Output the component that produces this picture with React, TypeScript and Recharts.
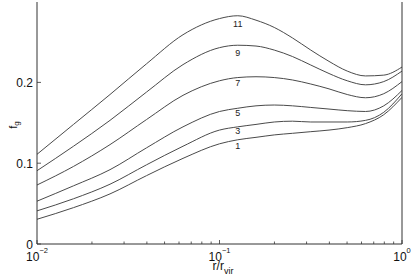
import React from "react";
import { LineChart, Line, XAxis, YAxis, ReferenceDot } from "recharts";

// log10(r / r_vir) sample points shared by all curves
const logR = [-2, -1.8, -1.6, -1.4, -1.2, -1.0, -0.9, -0.8, -0.7, -0.6, -0.5, -0.4, -0.3, -0.2, -0.1, 0];

const fg11 = [0.111, 0.148, 0.185, 0.223, 0.259, 0.279, 0.2825, 0.277, 0.268, 0.255, 0.24, 0.226, 0.214, 0.208, 0.209, 0.219];
const fg9 = [0.0907, 0.121, 0.153, 0.188, 0.222, 0.243, 0.246, 0.245, 0.24, 0.232, 0.2215, 0.211, 0.202, 0.197, 0.201, 0.214];
const fg7 = [0.073, 0.096, 0.123, 0.154, 0.184, 0.202, 0.206, 0.207, 0.206, 0.203, 0.198, 0.192, 0.185, 0.181, 0.186, 0.201];
const fg5 = [0.053, 0.072, 0.092, 0.119, 0.145, 0.164, 0.168, 0.171, 0.172, 0.171, 0.169, 0.167, 0.165, 0.164, 0.171, 0.19];
const fg3 = [0.041, 0.056, 0.074, 0.098, 0.121, 0.141, 0.145, 0.148, 0.151, 0.152, 0.151, 0.151, 0.151, 0.153, 0.163, 0.186];
const fg1 = [0.0306, 0.045, 0.062, 0.0846, 0.106, 0.124, 0.129, 0.132, 0.135, 0.137, 0.139, 0.141, 0.144, 0.149, 0.16, 0.1815];

const seriesKeys = ["c11", "c9", "c7", "c5", "c3", "c1"];
const seriesValues = [fg11, fg9, fg7, fg5, fg3, fg1];

// curve labels: text, log r, f_g
const labelText = ["11", "9", "7", "5", "3", "1"];
const labelLogR = [-0.9, -0.9, -0.9, -0.9, -0.9, -0.9];
const labelFg = [0.272, 0.2368, 0.1989, 0.1618, 0.1399, 0.1213];

const majorX = [-2, -1, 0];
const minorX = [-2, -1].flatMap((d) => [2, 3, 4, 5, 6, 7, 8, 9].map((m) => d + Math.log10(m)));
const xTicks = [...majorX, ...minorX];
const yTicks = [0, 0.1, 0.2];
const majorExp = ["−2", "−1", "0"];

const data = logR.map((lr, i) => {
  const row: Record<string, number> = { lr };
  seriesKeys.forEach((k, j) => (row[k] = seriesValues[j][i]));
  return row;
});

const INK = "#333";
const FONT = "'Liberation Sans', Arial, sans-serif";

const isMajor = (v: number) => majorX.some((m) => Math.abs(m - v) < 1e-9);

function BottomTick(props: any) {
  const { x, y, payload } = props;
  const v = payload.value as number;
  const major = isMajor(v);
  const idx = majorX.findIndex((m) => Math.abs(m - v) < 1e-9);
  return (
    <g>
      <line x1={x} x2={x} y1={y} y2={y - (major ? 4 : 2.5)} stroke={INK} strokeWidth={0.8} />
      {major && (
        <text x={x} y={y + 16.5} textAnchor="middle" fontSize={12} fill="#111" fontFamily={FONT}>
          10
          <tspan dy={-8} fontSize={7.5}>
            {majorExp[idx]}
          </tspan>
        </text>
      )}
    </g>
  );
}

function TopTick(props: any) {
  const { x, y, payload } = props;
  const major = isMajor(payload.value);
  return <line x1={x} x2={x} y1={y} y2={y + (major ? 4 : 2.5)} stroke={INK} strokeWidth={0.8} />;
}

function LeftTick(props: any) {
  const { x, y, payload } = props;
  return (
    <g>
      <line x1={x} x2={x + 4} y1={y} y2={y} stroke={INK} strokeWidth={0.8} />
      <text x={x - 4} y={y + 4.5} textAnchor="end" fontSize={12} fill="#111" fontFamily={FONT}>
        {String(payload.value)}
      </text>
    </g>
  );
}

function RightTick(props: any) {
  const { x, y } = props;
  return <line x1={x} x2={x - 4} y1={y} y2={y} stroke={INK} strokeWidth={0.8} />;
}

function XLabel() {
  return (
    <text x={223} y={270} textAnchor="middle" fontSize={12} fill="#111" fontFamily={FONT}>
      r/r
      <tspan dy={4} fontSize={9}>
        vir
      </tspan>
    </text>
  );
}

function YLabel() {
  return (
    <text transform="translate(17,125) rotate(-90)" textAnchor="middle" fontSize={11} fill="#111" fontFamily={FONT}>
      f
      <tspan dy={1.5} fontSize={8}>
        g
      </tspan>
    </text>
  );
}

export default function App() {
  return (
    <div style={{ position: "absolute", left: 0, top: 0, width: 415, height: 277, background: "#fff", fontFamily: FONT }}>
      <LineChart width={415} height={277} data={data} margin={{ top: 2, right: 0, bottom: 3, left: 7 }}>
        <XAxis
          xAxisId="b"
          dataKey="lr"
          type="number"
          domain={[-2, 0]}
          ticks={xTicks}
          interval={0}
          allowDataOverflow
          height={30}
          tickSize={0}
          tickMargin={0}
          stroke={INK}
          tick={<BottomTick />}
          label={<XLabel />}
        />
        <XAxis
          xAxisId="t"
          orientation="top"
          dataKey="lr"
          type="number"
          domain={[-2, 0]}
          ticks={xTicks}
          interval={0}
          height={0}
          tickSize={0}
          tickMargin={0}
          stroke={INK}
          tick={<TopTick />}
        />
        <YAxis
          yAxisId="l"
          type="number"
          domain={[0, 0.2995]}
          ticks={yTicks}
          interval={0}
          allowDataOverflow
          width={30}
          tickSize={0}
          tickMargin={0}
          stroke={INK}
          tick={<LeftTick />}
          label={<YLabel />}
        />
        <YAxis
          yAxisId="r"
          orientation="right"
          type="number"
          domain={[0, 0.2995]}
          ticks={yTicks}
          interval={0}
          width={13}
          tickSize={0}
          tickMargin={0}
          stroke={INK}
          tick={<RightTick />}
          axisLine={{ stroke: INK }}
        />
        {seriesKeys.map((k) => (
          <Line
            key={k}
            xAxisId="b"
            yAxisId="l"
            type="monotone"
            dataKey={k}
            stroke="#4a4a4a"
            strokeWidth={1}
            dot={false}
            activeDot={false}
            isAnimationActive={false}
          />
        ))}
        {labelText.map((t, i) => (
          <ReferenceDot
            key={t}
            xAxisId="b"
            yAxisId="l"
            x={labelLogR[i]}
            y={labelFg[i]}
            r={0}
            fill="none"
            stroke="none"
            ifOverflow="visible"
            label={{ value: t, position: "center", fontSize: 9, fill: "#222", fontFamily: FONT }}
          />
        ))}
      </LineChart>
    </div>
  );
}
